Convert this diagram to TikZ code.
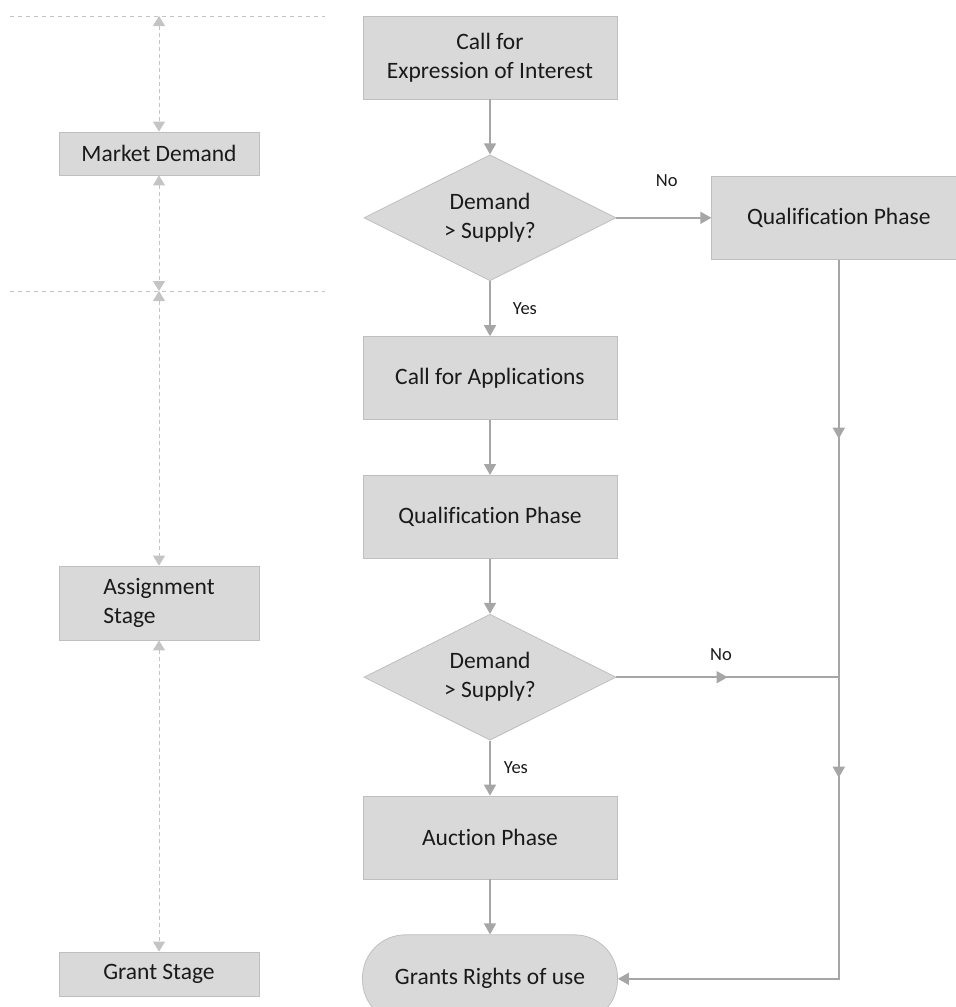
\documentclass[tikz,border=0pt]{standalone}
\usepackage{fontspec}
\setmainfont{Carlito}[Ligatures=NoCommon]
\usetikzlibrary{arrows.meta, positioning, shapes.geometric, decorations.markings}
\definecolor{boxfill}{HTML}{D9D9D9}
\definecolor{boxline}{HTML}{BFBFBF}
\definecolor{flowline}{HTML}{A6A6A6}
\definecolor{guideline}{HTML}{C4C4C4}
\definecolor{ink}{HTML}{1A1A1A}
\tikzset{
    box/.style={rectangle, draw=boxline, fill=boxfill, line width=0.8pt, inner sep=0pt,
      text=ink, align=center, font=\fontsize{23.5}{29}\selectfont},
    stage/.style={box, minimum width=200pt},
    phase/.style={box, minimum width=254pt, minimum height=83pt},
    decision/.style={box, diamond, aspect=2, minimum width=252pt, minimum height=126pt},
    grant/.style={box, rounded corners=43pt, minimum width=255pt, minimum height=88pt},
    flow/.style={draw=flowline, line width=1.6pt, -{Triangle[length=11pt, width=12pt]}},
    span/.style={draw=guideline, line width=1pt, dash pattern=on 4pt off 3pt,
      {Triangle[length=10pt, width=12pt]}-{Triangle[length=10pt, width=12pt]}},
    cut/.style={draw=guideline, line width=0.8pt, dash pattern=on 4pt off 4pt},
    answer/.style={inner sep=0pt, text=ink, font=\fontsize{18.5}{22}\selectfont},
    midtip/.style={postaction={decorate, decoration={markings,
      mark=at position #1 with {\arrow{Triangle[length=11pt, width=12pt]}}}}},
}

\begin{document}
\begin{tikzpicture}[x=1pt, y=-1pt, node distance=55pt]
    \useasboundingbox (0,0) rectangle (956,1007);

    \coordinate (h0) at (10,16);
    \coordinate (h1) at (325,16);
    \coordinate (h2) at (10,291);
    \coordinate (h3) at (325,291);
    \coordinate (m0) at (159,16);
    \coordinate (m1) at (159,291);

    \node[stage, minimum height=43pt] (s0) at (159,153.5) {Market Demand};
    \node[stage, minimum height=74pt, align=left] (s1) at (159,603) {Assignment\\Stage};
    \node[stage, minimum height=44pt] (s2) at (159,974) {Grant Stage};

    \draw[cut] (h0) -- (h1);
    \draw[cut] (h2) -- (h3);
    \draw[span] (m0) -- (s0.north);
    \draw[span] (s0.south) -- (m1);
    \draw[span] (m1) -- (s1.north);
    \draw[span] (s1.south) -- (s2.north);

    \node[phase] (p0) at (490,57.5) {Call for\\Expression of Interest};
    \node[decision, below=of p0] (p1) {Demand\\> Supply?};
    \node[phase, below=of p1] (p2) {Call for Applications};
    \node[phase, below=of p2] (p3) {Qualification Phase};
    \node[decision, below=of p3] (p4) {Demand\\> Supply?};
    \node[phase, below=of p4] (p5) {Auction Phase};
    \node[grant, below=of p5] (p6) {Grants Rights of use};
    \node[phase, right=95pt of p1] (r0) {Qualification Phase};

    \coordinate (j0) at (r0.south |- p4.east);

    \draw[flow] (p0) -- (p1);
    \draw[flow] (p1.east) -- node[answer, pos=0.53, above=30pt] {No} (r0.west);
    \draw[flow] (p1) -- node[answer, right=22pt] {Yes} (p2);
    \draw[flow] (p2) -- (p3);
    \draw[flow] (p3) -- (p4);
    \draw[draw=flowline, line width=1.6pt, midtip=0.5] (p4.east) -- node[answer, pos=0.47, above=16pt] {No} (j0);
    \draw[flow] (p4) -- node[answer, right=13pt] {Yes} (p5);
    \draw[flow] (p5) -- (p6);
    \draw[flow, midtip=179pt, midtip=518pt] (r0.south) -- (r0.south |- p6.east) -- (p6.east);
\end{tikzpicture}
\end{document}
